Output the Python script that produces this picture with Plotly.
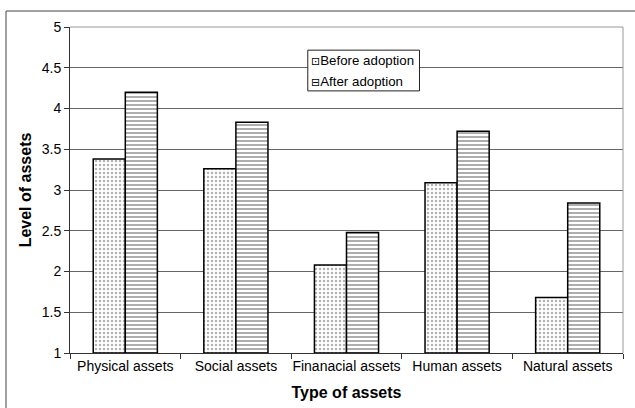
import plotly.graph_objects as go

categories = ["Physical assets", "Social assets", "Finanacial assets", "Human assets", "Natural assets"]
before_adoption = [3.38, 3.26, 2.08, 3.09, 1.68]
after_adoption = [4.20, 3.83, 2.48, 3.72, 2.84]
y_ticks = [1, 1.5, 2, 2.5, 3, 3.5, 4, 4.5, 5]
y_tick_labels = ["1", "1.5", "2", "2.5", "3", "3.5", "4", "4.5", "5"]
series_names = ["Before adoption", "After adoption"]
key_symbols = ["⊡", "⊟"]

FONT = "Liberation Sans, Arial, sans-serif"

fig = go.Figure()
fig.add_trace(go.Bar(
    name=series_names[0], x=categories, y=[v - 1 for v in before_adoption], base=1,
    marker=dict(color="white", line=dict(color="black", width=1.5),
                pattern=dict(shape=".", size=4, solidity=0.3, fgcolor="#666", bgcolor="white")),
))
fig.add_trace(go.Bar(
    name=series_names[1], x=categories, y=[v - 1 for v in after_adoption], base=1,
    marker=dict(color="white", line=dict(color="black", width=1.5),
                pattern=dict(shape="-", size=4, solidity=0.4, fgcolor="#333", bgcolor="white")),
))

# compact boxed key inside the plot: a framed rectangle with one text row per series
key_rows_y = [0.896, 0.834]
annotations = [
    dict(text="<span style='font-family:DejaVu Sans;font-size:11px'>" + sym + "</span>" + name,
         xref="paper", yref="paper", x=0.433, y=yy, xanchor="left", yanchor="middle",
         showarrow=False, align="left", font=dict(size=13.3))
    for sym, name, yy in zip(key_symbols, series_names, key_rows_y)
]

fig.update_layout(
    width=635, height=408,
    margin=dict(l=70, r=12, t=27, b=55),
    paper_bgcolor="white", plot_bgcolor="white",
    barmode="group", bargap=0.42, bargroupgap=0,
    font=dict(family=FONT, size=14, color="black"),
    showlegend=False,
    xaxis=dict(
        type="category", showline=True, linecolor="#333", linewidth=1,
        ticks="outside", tickson="boundaries", ticklen=5, tickcolor="#333",
        tickangle=0, automargin=False,
        showgrid=False, mirror=False,
        title=dict(text="<b>Type of assets</b>", font=dict(size=16), standoff=14),
    ),
    yaxis=dict(
        range=[1, 5], tickvals=y_ticks, ticktext=y_tick_labels,
        showline=True, linecolor="#333", linewidth=1,
        ticks="outside", ticklen=5, tickcolor="#333", automargin=False,
        showgrid=True, gridcolor="#666", gridwidth=1, zeroline=False,
        title=dict(text="<b>Level of assets</b>", font=dict(size=16), standoff=6),
    ),
    annotations=annotations,
    shapes=[
        dict(type="rect", xref="paper", yref="paper", x0=-0.1157, x1=1.2, y0=-0.5, y1=1.049,
             line=dict(color="#444", width=1), fillcolor="rgba(0,0,0,0)", layer="below"),
        dict(type="line", xref="paper", yref="paper", x0=1, x1=1, y0=0, y1=1,
             line=dict(color="#999", width=1)),
        dict(type="line", xref="paper", yref="paper", x0=0, x1=1, y0=1, y1=1,
             line=dict(color="#999", width=1)),
        dict(type="rect", xref="paper", yref="paper", x0=0.430, x1=0.632, y0=0.804, y1=0.929,
             line=dict(color="#222", width=1), fillcolor="white", layer="above"),
    ],
)

fig.write_html("out.html")
